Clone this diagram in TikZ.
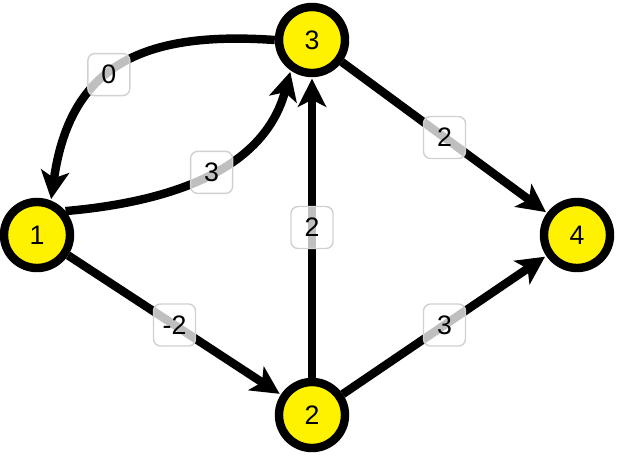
\documentclass[tikz,border=0pt]{standalone}
\usepackage{fontspec}
\setsansfont{Liberation Sans}
\usetikzlibrary{arrows.meta}

\begin{document}
\begin{tikzpicture}[
    x=0.025cm, y=-0.025cm,
    >={Stealth[length=20pt, width=20pt, inset=5pt]},
    % Styles
    vertex/.style={circle, draw, fill=yellow, line width=6pt, minimum size=1.65cm, inner sep=0pt, font=\sffamily\fontsize{19}{21}\selectfont},
    edge/.style={->, line width=6pt, shorten >=1pt},
    weight/.style={rectangle, rounded corners=5pt, draw=black!18, line width=1pt, fill=white, fill opacity=0.75, text opacity=1, minimum size=1.05cm, inner sep=1pt, font=\sffamily\fontsize{19}{21}\selectfont}
]
    \useasboundingbox (0,0) rectangle (620,456);

    % --- Vertices ---
    \node [vertex] (v1) at (37,235) {1};
    \node [vertex] (v3) at (312,40) {3};
    \node [vertex] (v2) at (312,415) {2};
    \node [vertex] (v4) at (577,235) {4};

    % --- Edges ---
    \draw [edge] (v3.west) to [out=176, in=82, looseness=1.25] node [weight, pos=0.55] {0} (v1.68);
    \draw [edge] (v1.40) to [out=5, in=-105] node [weight, pos=0.52] {3} (v3.235);
    \draw [edge] (v1) -- node [weight] {-2} (v2);
    \draw [edge] (v2) -- node [weight] {2} (v3);
    \draw [edge] (v2) -- node [weight] {3} (v4);
    \draw [edge] (v3) -- node [weight] {2} (v4);

\end{tikzpicture}
\end{document}
